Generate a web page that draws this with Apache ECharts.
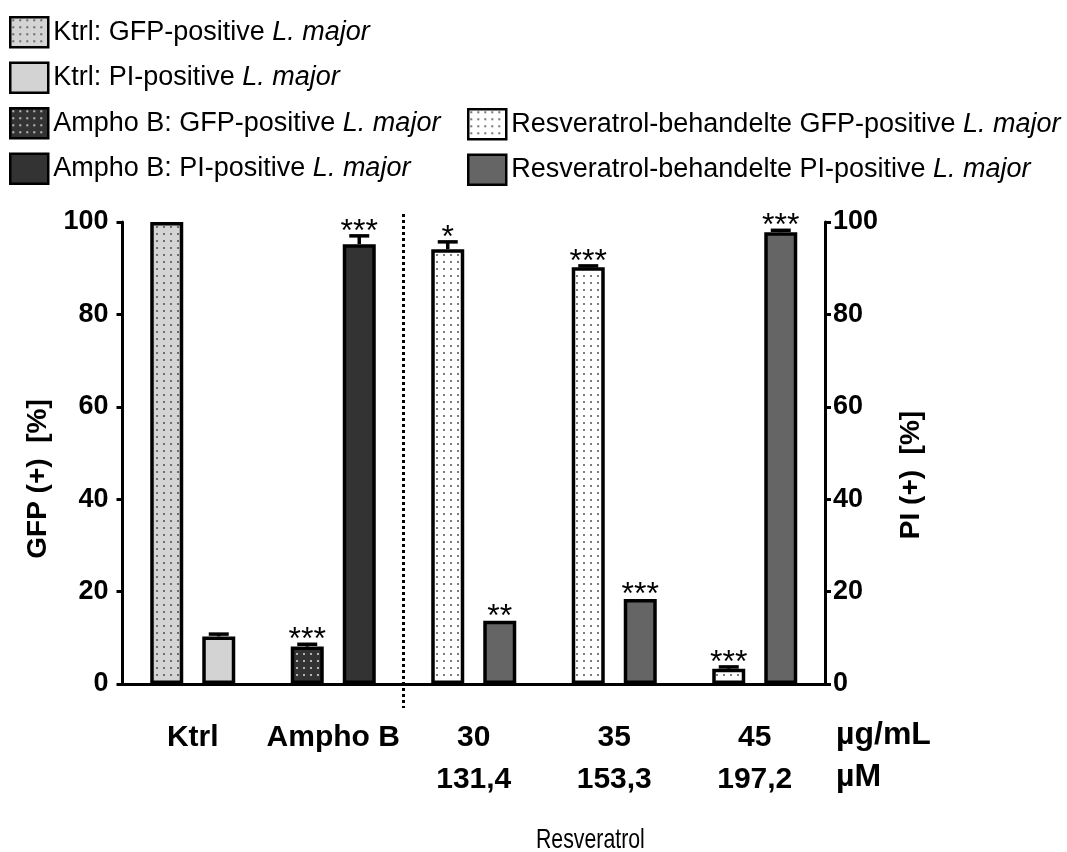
<!DOCTYPE html>
<html>
<head>
<meta charset="utf-8">
<script src="https://cdn.jsdelivr.net/npm/echarts@6/dist/echarts.min.js"></script>
<style>
  html, body { margin: 0; padding: 0; background: #fff; }
  #chart { width: 1067px; height: 852px; }
</style>
</head>
<body>
<div id="chart"></div>
<script>
// Treatment groups along the x axis
const categories = ['Ktrl', 'Ampho B', '30\n131,4', '35\n153,3', '45\n197,2'];
const yTicks = [0, 20, 40, 60, 80, 100];

// GFP-positive share [%] (left axis) per group
const ktrlGfp  = [100, '-', '-', '-', '-'];
const amphoGfp = ['-', 8.1, '-', '-', '-'];
const resGfp   = ['-', '-', 94.1, 90.2, 3.3];
// PI-positive share [%] (right axis) per group
const ktrlPi   = [10.3, '-', '-', '-', '-'];
const amphoPi  = ['-', 95.2, '-', '-', '-'];
const resPi    = ['-', '-', 13.7, 18.4, 97.8];

// Error (SEM) per group
const gfpErr = [0, 0.5, 1.6, 0.3, 0.4];
const piErr  = [0.5, 1.8, 0, 0, 0.4];
// Significance marks per group
const gfpSig = ['', '***', '*', '***', '***'];
const piSig  = ['', '***', '**', '***', '***'];

const FONT = '"Liberation Sans", Arial, sans-serif';
const BAR_W = 33;
const BAR_GAP = '57.6%';

function dotPattern(bg, dot, step, size) {
  const c = document.createElement('canvas');
  c.width = step; c.height = step;
  const g = c.getContext('2d');
  g.fillStyle = bg; g.fillRect(0, 0, step, step);
  g.fillStyle = dot; g.fillRect(2, 2, size, size);
  return { image: c, repeat: 'repeat' };
}

const fills = {
  ktrlGfp: dotPattern('#d4d4d4', '#6e6e6e', 7, 2),
  ktrlPi: '#d3d3d3',
  amphoGfp: dotPattern('#333333', '#b4b4b4', 7, 2),
  amphoPi: '#333333',
  resGfp: dotPattern('#ffffff', '#7c7c7c', 7, 2),
  resPi: '#656565'
};

const names = {
  ktrlGfp: 'Ktrl: GFP-positive L. major',
  ktrlPi: 'Ktrl: PI-positive L. major',
  amphoGfp: 'Ampho B: GFP-positive L. major',
  amphoPi: 'Ampho B: PI-positive L. major',
  resGfp: 'Resveratrol-behandelte GFP-positive L. major',
  resPi: 'Resveratrol-behandelte PI-positive L. major'
};

function barSeries(key, data, stack, yAxisIndex) {
  return {
    type: 'bar', name: names[key], data: data, stack: stack,
    yAxisIndex: yAxisIndex, barWidth: BAR_W, barGap: BAR_GAP,
    itemStyle: { color: fills[key], borderColor: '#000', borderWidth: 3.5 },
    emphasis: { disabled: true }
  };
}

// error caps + significance stars for one bar slot
function errSeries(values, errs, sigs, slot, yAxisIndex) {
  const data = categories.map((c, i) => [i, values[i], errs[i], sigs[i]]).filter(d => d[1] !== '-');
  return {
    type: 'custom', yAxisIndex: yAxisIndex, silent: true, z: 5,
    data: data,
    renderItem: function (params, api) {
      const layout = api.barLayout({ count: 2, barWidth: BAR_W, barGap: BAR_GAP });
      const off = layout[slot].offsetCenter;
      const idx = api.value(0), v = api.value(1), e = api.value(2);
      const sig = data[params.dataIndex][3];
      const base = api.coord([idx, v]);
      const top = api.coord([idx, v + e]);
      const x = base[0] + off;
      const children = [];
      if (e > 0) {
        children.push({ type: 'line', shape: { x1: x, y1: base[1], x2: x, y2: top[1] },
          style: { stroke: '#000', lineWidth: 3.5 } });
        children.push({ type: 'line', shape: { x1: x - 10, y1: top[1], x2: x + 10, y2: top[1] },
          style: { stroke: '#000', lineWidth: 3.5 } });
      }
      if (sig) {
        children.push({ type: 'text', x: x, y: top[1] + 12,
          style: { text: sig, font: '32px ' + FONT, fill: '#000', align: 'center', verticalAlign: 'bottom' } });
      }
      return { type: 'group', children: children };
    }
  };
}

const legendText = {
  fontFamily: FONT, fontSize: 27, color: '#000',
  rich: { i: { fontFamily: FONT, fontSize: 27, fontStyle: 'italic', color: '#000' } }
};
const legendFmt = n => n.replace('L. major', '{i|L. major}');
const legendBase = {
  orient: 'vertical', padding: 0, itemWidth: 38, itemHeight: 30, itemGap: 13,
  selectedMode: false, icon: 'rect', itemStyle: { borderWidth: 2.5, borderColor: '#000' },
  textStyle: legendText, formatter: legendFmt
};

const axisName = { fontFamily: FONT, fontWeight: 'bold', fontSize: 28, color: '#000' };
const tickLabel = { fontFamily: FONT, fontWeight: 'bold', fontSize: 27, color: '#000',
  formatter: v => yTicks.includes(v) ? String(v) : '' };
const blackLine = { color: '#000', width: 3 };

const chart = echarts.init(document.getElementById('chart'), null, { renderer: 'canvas' });
chart.setOption({
  backgroundColor: '#fff',
  animation: false,
  legend: [
    Object.assign({}, legendBase, { data: [names.ktrlGfp, names.ktrlPi, names.amphoGfp, names.amphoPi], left: 9, top: 16 }),
    Object.assign({}, legendBase, { data: [names.resGfp, names.resPi], left: 467, top: 108 })
  ],
  grid: { left: 122.5, right: 242, top: 222, bottom: 168, containLabel: false },
  xAxis: {
    type: 'category', data: categories,
    axisLine: { lineStyle: blackLine },
    axisTick: { alignWithLabel: true, length: 10, lineStyle: blackLine },
    axisLabel: { margin: 33, fontFamily: FONT, fontWeight: 'bold', fontSize: 30, color: '#000', lineHeight: 42, interval: 0 }
  },
  yAxis: [
    { type: 'value', min: 0, max: 100, interval: 20, position: 'left',
      name: 'GFP (+)  [%]', nameLocation: 'middle', nameRotate: 90, nameGap: 64,
      nameTextStyle: Object.assign({ padding: [0, 52, 0, 0] }, axisName),
      axisLine: { show: true, lineStyle: blackLine },
      axisTick: { show: true, length: 6, lineStyle: blackLine },
      axisLabel: Object.assign({ margin: 14 }, tickLabel),
      splitLine: { show: false } },
    { type: 'value', min: 0, max: 100, interval: 20, position: 'right',
      name: 'PI (+)  [%]', nameLocation: 'middle', nameRotate: 90, nameGap: 72,
      nameTextStyle: Object.assign({ padding: [0, 44, 0, 0] }, axisName),
      axisLine: { show: true, lineStyle: blackLine },
      axisTick: { show: true, length: 6, lineStyle: blackLine },
      axisLabel: Object.assign({ margin: 8 }, tickLabel),
      splitLine: { show: false } }
  ],
  graphic: [
    { type: 'text', left: 836, top: 719, style: { text: 'µg/mL', font: 'bold 32px ' + FONT, fill: '#000' } },
    { type: 'text', left: 836, top: 761, style: { text: 'µM', font: 'bold 32px ' + FONT, fill: '#000' } },
    // condensed title under the Resveratrol groups
    { type: 'text', x: 536, y: 826, scaleX: 0.76, style: { text: 'Resveratrol', font: '28px ' + FONT, fill: '#000' } }
  ],
  series: [
    barSeries('ktrlGfp', ktrlGfp, 'gfp', 0),
    barSeries('ktrlPi', ktrlPi, 'pi', 1),
    barSeries('amphoGfp', amphoGfp, 'gfp', 0),
    barSeries('amphoPi', amphoPi, 'pi', 1),
    barSeries('resGfp', resGfp, 'gfp', 0),
    barSeries('resPi', resPi, 'pi', 1),
    errSeries(ktrlGfp.map((v, i) => v !== '-' ? v : amphoGfp[i] !== '-' ? amphoGfp[i] : resGfp[i]), gfpErr, gfpSig, 0, 0),
    errSeries(ktrlPi.map((v, i) => v !== '-' ? v : amphoPi[i] !== '-' ? amphoPi[i] : resPi[i]), piErr, piSig, 1, 1),
    // dotted separator between the controls and the Resveratrol groups
    { type: 'custom', silent: true, z: 1, data: [0],
      renderItem: function (params, api) {
        const cs = params.coordSys;
        const x = cs.x + cs.width * 2 / categories.length;
        return { type: 'line', shape: { x1: x, y1: cs.y - 8, x2: x, y2: cs.y + cs.height + 24 },
          style: { stroke: '#000', lineWidth: 3, lineDash: [3, 3] } };
      } }
  ]
});
</script>
</body>
</html>
